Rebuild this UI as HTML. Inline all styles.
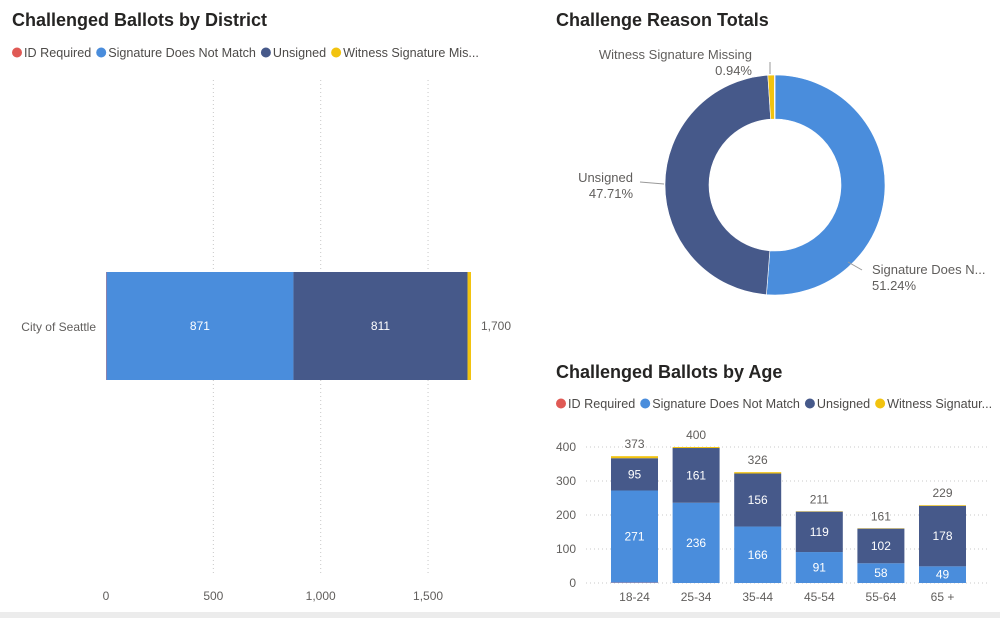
<!DOCTYPE html>
<html><head><meta charset="utf-8"><style>
body{margin:0;background:#fff;font-family:"Liberation Sans",sans-serif;}
svg{display:block}
text{font-family:"Liberation Sans",sans-serif}
</style></head><body>
<svg id="s" width="1000" height="618" viewBox="0 0 1000 618">
<rect x="0" y="612" width="1000" height="6" fill="#ececec"/>
<text x="12" y="26" font-size="18" font-weight="bold" fill="#252423">Challenged Ballots by District</text>
<text x="556" y="26" font-size="18" font-weight="bold" fill="#252423">Challenge Reason Totals</text>
<text x="556" y="378" font-size="18" font-weight="bold" fill="#252423">Challenged Ballots by Age</text>
<g id="leg1"></g>
<g id="leg2"></g>
<g id="dist"></g>
<g id="donut"></g>
<g id="age"></g>
</svg>
<script>
const seriesNames=["ID Required","Signature Does Not Match","Unsigned","Witness Signature Missing"];
const colors=["#e05a55","#4a8ddc","#46598a","#f2c30f"];
// district
const districtCats=["City of Seattle"];
const districtId=[2];
const districtSig=[871];
const districtUns=[811];
const districtWit=[16];
const districtTotals=[1700];
const districtTicks=[0,500,1000,1500];
// donut
const donutPct=[0.10,51.24,47.71,0.94];
// age
const ageCats=["18-24","25-34","35-44","45-54","55-64","65 +"];
const ageId=[1,0,0,0,0,0];
const ageSig=[271,236,166,91,58,49];
const ageUns=[95,161,156,119,102,178];
const ageWit=[6,3,4,1,1,2];
const ageTotals=[373,400,326,211,161,229];
const ageTicks=[0,100,200,300,400];

const NS="http://www.w3.org/2000/svg";
function mk(p,t,a,txt){const e=document.createElementNS(NS,t);for(const k in a)e.setAttribute(k,a[k]);if(txt!=null)e.textContent=txt;p.appendChild(e);return e;}
function fmt(v){return v.toLocaleString('en-US');}

function legend(g,x,y,names){
  let cx=x;
  names.forEach((n,i)=>{
    const c=mk(g,'circle',{cx:cx+5,cy:y-4.5,r:5,fill:colors[i]});
    
    
    const t=mk(g,'text',{x:cx+12,y:y,'font-size':12.6,fill:'#4d4b49'},n);
    
    
    cx+=12+t.getComputedTextLength()+5;
  });
}
legend(document.getElementById('leg1'),12,57,["ID Required","Signature Does Not Match","Unsigned","Witness Signature Mis..."]);
legend(document.getElementById('leg2'),556,408,["ID Required","Signature Does Not Match","Unsigned","Witness Signatur..."]);

// district chart
(function(){
  const g=document.getElementById('dist');
  const x=v=>106+v*0.2147;
  districtTicks.forEach(t=>{
    if(t>0){const l=mk(g,'line',{x1:x(t),x2:x(t),y1:80,y2:575,stroke:'#c8c8c8','stroke-dasharray':'1 3'});
    }
    const tx=mk(g,'text',{x:x(t),y:600,'font-size':12,fill:'#605e5c','text-anchor':'middle'},fmt(t));
    
  });
  districtCats.forEach((c,i)=>{
    const y0=272,h=108;
    const vals=[districtId[i],districtSig[i],districtUns[i],districtWit[i]];
    let acc=0;
    vals.forEach((v,k)=>{
      const r=mk(g,'rect',{x:x(acc),y:y0,width:Math.max(0,x(acc+v)-x(acc)),height:h,fill:colors[k]});
      
      if(v>100){const t=mk(g,'text',{x:(x(acc)+x(acc+v))/2,y:y0+h/2+4,'font-size':12,fill:'#fff','text-anchor':'middle'},fmt(v));
        }
      acc+=v;
    });
    const tl=mk(g,'text',{x:x(acc)+10,y:y0+h/2+4,'font-size':12,fill:'#605e5c'},fmt(districtTotals[i]));
    
    const cl=mk(g,'text',{x:96,y:y0+h/2+5,'font-size':12,fill:'#605e5c','text-anchor':'end'},c);
    
  });
})();

// donut
(function(){
  const g=document.getElementById('donut');
  const cx=775,cy=185,R=110,r=66;
  const tot=donutPct.reduce((a,b)=>a+b,0);
  const order=[1,2,3,0];
  let a0=0;
  order.forEach(k=>{
    const a1=a0+donutPct[k]/tot*Math.PI*2;
    const p=(a,rad)=>[cx+rad*Math.sin(a),cy-rad*Math.cos(a)];
    const [x1,y1]=p(a0,R),[x2,y2]=p(a1,R),[x3,y3]=p(a1,r),[x4,y4]=p(a0,r);
    const lg=(a1-a0)>Math.PI?1:0;
    const path=mk(g,'path',{d:`M${x1},${y1}A${R},${R} 0 ${lg} 1 ${x2},${y2}L${x3},${y3}A${r},${r} 0 ${lg} 0 ${x4},${y4}Z`,fill:colors[k],stroke:'#fff','stroke-width':0.6});
    
    a0=a1;
  });
  function lab(pts,anchor,l1,l2,tx,ty){
    const ln=mk(g,'polyline',{points:pts,fill:'none',stroke:'#999','stroke-width':1});
    
    const t1=mk(g,'text',{x:tx,y:ty,'font-size':13,fill:'#605e5c','text-anchor':anchor},l1);
    
    const t2=mk(g,'text',{x:tx,y:ty+16,'font-size':13,fill:'#605e5c','text-anchor':anchor},l2);
    
  }
  lab('770,62 770,74','end','Witness Signature Missing',donutPct[3].toFixed(2)+'%',752,59);
  lab('640,182 664,184','end','Unsigned',donutPct[2].toFixed(2)+'%',633,182);
  lab('848,262 862,270','start','Signature Does N...',donutPct[1].toFixed(2)+'%',872,274);
})();

// age chart
(function(){
  const g=document.getElementById('age');
  const y=v=>583-v*0.34;
  const x0=604,step=61.6,bw=47;
  ageTicks.forEach(t=>{
    const l=mk(g,'line',{x1:586,x2:990,y1:y(t),y2:y(t),stroke:'#c8c8c8','stroke-dasharray':'1 3'});
    
    const tx=mk(g,'text',{x:576,y:y(t)+4,'font-size':12,fill:'#605e5c','text-anchor':'end'},t);
    
  });
  ageCats.forEach((c,i)=>{
    const cx=x0+step*i+bw/2+7;
    const vals=[ageId[i],ageSig[i],ageUns[i],ageWit[i]];
    let acc=0;
    vals.forEach((v,k)=>{
      const r=mk(g,'rect',{x:cx-bw/2,y:y(acc+v),width:bw,height:y(acc)-y(acc+v),fill:colors[k]});
      
      if(v>=30){const t=mk(g,'text',{x:cx,y:(y(acc)+y(acc+v))/2+4,'font-size':12,fill:'#fff','text-anchor':'middle'},v);
        }
      acc+=v;
    });
    const tl=mk(g,'text',{x:cx,y:y(ageTotals[i])-8,'font-size':12,fill:'#605e5c','text-anchor':'middle'},ageTotals[i]);
    
    const cl=mk(g,'text',{x:cx,y:601,'font-size':12,fill:'#605e5c','text-anchor':'middle'},c);
    
  });
})();
</script>
</body></html>
